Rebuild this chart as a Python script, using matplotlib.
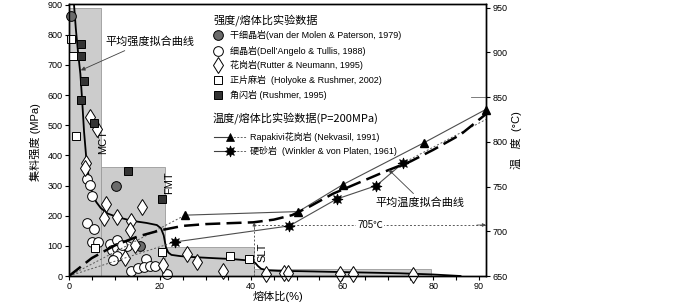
import matplotlib
matplotlib.use("Agg")
import matplotlib.pyplot as plt
from matplotlib.lines import Line2D
from matplotlib.patches import Rectangle

plt.rcParams["font.family"] = ["Liberation Sans", "Noto Sans CJK SC", "DejaVu Sans"]
plt.rcParams["axes.unicode_minus"] = False
CJK = ["Noto Sans CJK SC", "DejaVu Sans"]

W, H = 700, 302

# --- strength / melt fraction experiments (melt %, MPa) ---
aplite_dry_x = [0.4, 10.3, 15.6]
aplite_dry_y = [861, 299, 100]

aplite_x = [4.0, 4.6, 5.0, 3.9, 5.6, 5.1, 6.3, 9.1, 10.5, 9.4, 10.5, 11.4, 10.6, 9.6,
            12.8, 11.7, 13.6, 15.2, 16.9, 16.5, 17.7, 18.8, 21.5]
aplite_y = [321, 302, 264, 176, 155, 112, 112, 106, 118, 87, 93, 80, 67, 52,
            98, 104, 15, 28, 57, 30, 34, 33, 6]

granite_x = [4.6, 6.1, 3.7, 3.6, 8.1, 7.7, 10.5, 13.6, 13.4, 16.0, 14.5, 12.3,
             20.7, 25.9, 28.2, 33.8, 43.2, 47.3, 48.0, 59.6, 62.3, 75.5]
granite_y = [527, 486, 376, 357, 238, 193, 195, 183, 152, 230, 104, 61,
             36, 74, 45, 17, 5, 9, 9, 5, 5, 3]

gneiss_x = [0.5, 0.95, 1.5, 5.8, 20.5, 35.4, 39.6]
gneiss_y = [787, 730, 464, 93, 80, 66, 56]

amphibolite_x = [2.6, 2.6, 3.3, 2.6, 5.6, 13.0, 20.4]
amphibolite_y = [768, 728, 647, 583, 508, 348, 257]

# averaged strength fit
strength_fit_x = [1.1, 1.5, 2.0, 2.5, 2.9, 3.3, 3.8, 4.4, 5.2, 6.0, 7.0, 8.5, 10.5,
                  13.8, 17.0, 19.3, 20.2, 20.8, 21.3, 21.8, 22.5, 24.4, 27.0, 32.0,
                  36.0, 39.8, 40.5, 41.0, 41.5, 42.2, 43.5, 46.0, 50.8, 60.0, 72.7,
                  80.0, 86.0]
strength_fit_y = [900, 820, 740, 670, 580, 480, 390, 320, 270, 245, 225, 207, 196,
                  183, 176, 169, 158, 135, 95, 78, 70, 66, 63, 59,
                  56, 51, 48, 42, 33, 24, 19, 17, 16, 13, 9,
                  5, 0]

# --- temperature / melt fraction experiments, P = 200 MPa (melt %, deg C) ---
t_origin_x, t_origin_t = 0, 650
rapakivi_x = [25.5, 50.4, 60.1, 78.0, 91.5]
rapakivi_t = [718, 722, 752, 799, 836]
greywacke_x = [23.2, 48.4, 58.8, 67.5, 73.3]
greywacke_t = [688, 706, 736, 751, 776]
greywacke_end_x, greywacke_end_t = 91.6, 825

temp_fit_x = [0, 5, 10, 15, 20, 25, 30, 35, 40.5, 45, 49, 53, 58, 64, 70, 75, 80,
              86, 91.6]
temp_fit_t = [650, 670, 684, 694, 701, 706, 708, 709, 710, 713, 718, 728, 742, 755,
              768, 778, 791, 808, 831]

slt_x, solidus_t = 40.7, 707

# rheological thresholds (grey zones)
zone_x0 = [0, 7, 21, 40.7]
zone_x1 = [7, 21, 40.7, 79.6]
zone_top = [890, 360, 95, 22]
zone_names = ["MCT", "FMT", "SLT"]
zone_label_x = [7.6, 21.9, 42.4]
zone_label_y = [445, 310, 78]

strength_labels = [
    "干细晶岩(van der Molen & Paterson, 1979)",
    "细晶岩(Dell\u2019Angelo & Tullis, 1988)",
    "花岗岩(Rutter & Neumann, 1995)",
    "正片麻岩  (Holyoke & Rushmer, 2002)",
    "角闪岩 (Rushmer, 1995)",
]
temp_labels = [
    "Rapakivi花岗岩 (Nekvasil, 1991)",
    "硬砂岩  (Winkler & von Platen, 1961)",
]

x_ticks = list(range(0, 95, 5))
x_labelled = [0, 20, 40, 60, 80, 90]

styles = [
    dict(marker="o", mfc="#6b6b6b", ms=7),
    dict(marker="o", mfc="white", ms=7),
    dict(marker="d", mfc="white", ms=8),
    dict(marker="s", mfc="white", ms=5.5),
    dict(marker="s", mfc="#333333", ms=5.5),
]
tri_style = dict(marker="^", mfc="black", ms=6)
star_style = dict(marker=(8, 1, 0), mfc="black", ms=8)

fig = plt.figure(figsize=(W / 100, H / 100), dpi=100)
ax = fig.add_axes([69 / W, 26 / H, 417 / W, 272 / H])
ax2 = ax.twinx()

for x0, x1, top in zip(zone_x0, zone_x1, zone_top):
    ax.add_patch(Rectangle((x0, 0), x1 - x0, top, fc="#cccccc", ec="#9a9a9a",
                           lw=0.6, zorder=0))
for name, lx, ly in zip(zone_names, zone_label_x, zone_label_y):
    ax.text(lx, ly, name, rotation=90, ha="center", va="center", fontsize=8)

ax.plot(strength_fit_x, strength_fit_y, color="black", lw=1.3, zorder=3)

series = [(aplite_dry_x, aplite_dry_y), (aplite_x, aplite_y), (granite_x, granite_y),
          (gneiss_x, gneiss_y), (amphibolite_x, amphibolite_y)]
for (xs, ys), st in zip(series, styles):
    ax.plot(xs, ys, ls="none", mec="black", mew=0.7, clip_on=False, zorder=4, **st)

ax.annotate("平均强度拟合曲线", xy=(2.6, 682), xytext=(17.8, 776), fontsize=8,
            family=CJK, ha="center", va="center",
            arrowprops=dict(arrowstyle="-|>", color="0.25", lw=0.6, mutation_scale=6,
                            relpos=(0.3, 0), shrinkA=1, shrinkB=0))

# temperature curves on the right axis
dot = dict(color="0.35", lw=0.7, ls=(0, (2, 2)))
ax2.plot([t_origin_x, rapakivi_x[0]], [t_origin_t, rapakivi_t[0]], **dot)
ax2.plot([t_origin_x, greywacke_x[0]], [t_origin_t, greywacke_t[0]], **dot)
ax2.plot([greywacke_x[-1], greywacke_end_x], [greywacke_t[-1], greywacke_end_t], **dot)
ax2.plot(rapakivi_x, rapakivi_t, color="0.3", lw=0.8, clip_on=False)
ax2.plot(greywacke_x, greywacke_t, color="0.3", lw=0.8)
ax2.plot(temp_fit_x, temp_fit_t, color="black", lw=1.8, ls=(0, (6, 2.5)))
ax2.plot(rapakivi_x, rapakivi_t, ls="none", mec="black", clip_on=False, zorder=5,
         **tri_style)
ax2.plot(greywacke_x, greywacke_t, ls="none", mec="black", mew=0.5, zorder=5,
         **star_style)

# solidus-like threshold at the SLT
ax2.plot([slt_x, slt_x], [t_origin_t, solidus_t + 2], **dot)
ax2.plot([slt_x, greywacke_end_x], [solidus_t, solidus_t], **dot)
head = dict(arrowstyle="-|>", color="0.3", lw=0.6, mutation_scale=5, shrinkA=0, shrinkB=0)
ax2.annotate("", xy=(slt_x, solidus_t + 3), xytext=(slt_x, solidus_t - 3), arrowprops=head)
ax2.annotate("", xy=(greywacke_end_x, solidus_t), xytext=(greywacke_end_x - 2, solidus_t),
             arrowprops=head, annotation_clip=False)
ax2.text(66.2, solidus_t, "705℃", ha="center", va="center", fontsize=7,
         bbox=dict(fc="white", ec="none", pad=0.8))
ax2.axhline(850, xmin=0.965, xmax=1, color="0.4", lw=0.6)

ax2.annotate("平均温度拟合曲线", xy=(70.2, 769), xytext=(77.1, 732), fontsize=8,
             family=CJK, ha="center", va="center",
             arrowprops=dict(arrowstyle="-|>", color="0.25", lw=0.6, mutation_scale=6,
                             relpos=(0.47, 1), shrinkA=1, shrinkB=0))

# axes
ax.set_xlim(0, 91.6)
ax.set_ylim(0, 902)
ax2.set_ylim(650, 954)
ax.set_xticks(x_ticks)
ax.set_xticklabels([str(t) if t in x_labelled else "" for t in x_ticks])
ax.set_yticks(range(0, 901, 100))
ax2.set_yticks(range(650, 951, 50))
for a in (ax, ax2):
    a.tick_params(direction="out", length=3, width=0.8, labelsize=6.5, pad=1.5)
    for sp in a.spines.values():
        sp.set_linewidth(1.0)

fig.text(35 / W, 1 - 142 / H, "集料强度 (MPa)", rotation=90, ha="center", va="center",
         fontsize=8)
fig.text(516 / W, 1 - 140 / H, "温   度  (°C)", rotation=90, ha="center", va="center",
         fontsize=8)
fig.text(278 / W, 1 - 296 / H, "熔体比(%)", ha="center", va="center", fontsize=8)


# legend drawn in figure pixels
def fx(px):
    return px / W


def fy(py):
    return 1 - py / H


fig.text(fx(213), fy(20), "强度/熔体比实验数据", fontsize=8, family=CJK, va="center")
for st, label, py in zip(styles, strength_labels, [35, 50.5, 64.5, 80, 94.5]):
    fig.add_artist(Line2D([fx(218)], [fy(py)], ls="none", mec="black", mew=0.7, **st))
    fig.text(fx(230), fy(py), label, fontsize=6.5, va="center")

fig.text(fx(213), fy(118), "温度/熔体比实验数据(P=200MPa)", fontsize=8, family=CJK,
         va="center")
for st, label, py in zip([tri_style, star_style], temp_labels, [136.5, 151]):
    fig.add_artist(Line2D([fx(214), fx(229.5)], [fy(py)] * 2, color="0.25", lw=0.8))
    fig.add_artist(Line2D([fx(229.5), fx(247)], [fy(py)] * 2, color="0.4", lw=0.7,
                          ls=(0, (2, 1.5))))
    fig.add_artist(Line2D([fx(229.5)], [fy(py)], ls="none", mec="black", mew=0.5, **st))
    fig.text(fx(250), fy(py), label, fontsize=6.5, va="center")

fig.savefig("out.png", dpi=100)
